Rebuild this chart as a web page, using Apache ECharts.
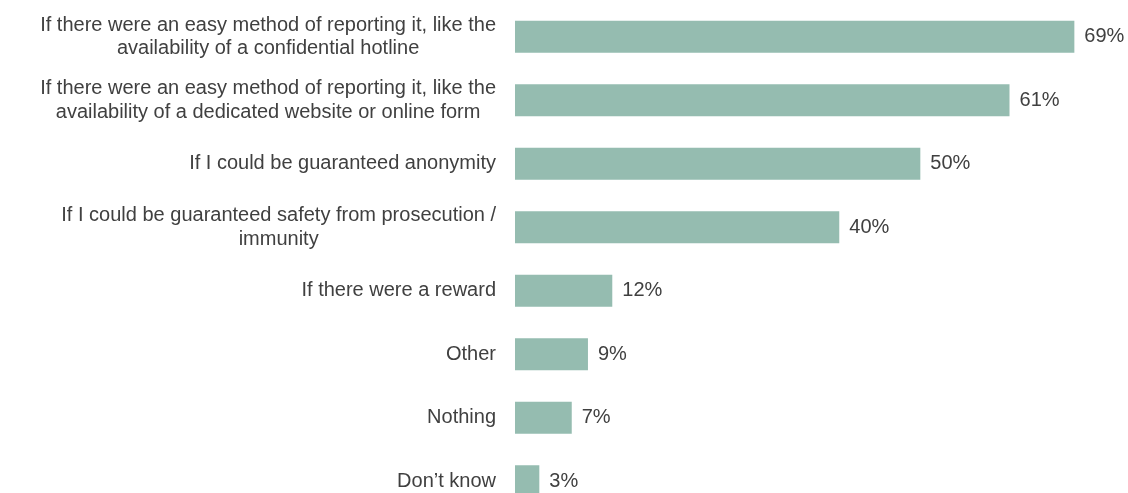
<!DOCTYPE html>
<html>
<head>
<meta charset="utf-8">
<script src="https://cdn.jsdelivr.net/npm/echarts@6/dist/echarts.min.js"></script>
<style>
  html, body { margin: 0; padding: 0; background: #ffffff; overflow: hidden; }
  /* the canvas is a little taller than the window, so the last bar is cut off */
  #chart { width: 1128px; height: 513px; }
</style>
</head>
<body>
<div id="chart"></div>
<script>
// Survey answers, top to bottom
const categories = [
  'If there were an easy method of reporting it, like the\navailability of a confidential hotline',
  'If there were an easy method of reporting it, like the\navailability of a dedicated website or online form',
  'If I could be guaranteed anonymity',
  'If I could be guaranteed safety from prosecution /\nimmunity',
  'If there were a reward',
  'Other',
  'Nothing',
  'Don’t know'
];
// Share of respondents (%)
const shares = [69, 61, 50, 40, 12, 9, 7, 3];

const TEXT = '#404040';
const BAR = '#95BCB0';
const FONT = '"Liberation Sans", Arial, sans-serif';

const chart = echarts.init(document.getElementById('chart'), null, { renderer: 'canvas' });

chart.setOption({
  backgroundColor: '#ffffff',
  animation: false,
  grid: { left: 515, right: 5, top: 5, bottom: 0 },
  xAxis: {
    type: 'value',
    min: 0,
    max: 75,
    show: false
  },
  yAxis: {
    type: 'category',
    inverse: true,
    data: categories,
    axisLine: { show: false },
    axisTick: { show: false },
    splitLine: { show: false },
    axisLabel: {
      margin: 19,
      color: TEXT,
      fontFamily: FONT,
      fontSize: 20,
      lineHeight: 23.5,
      // each line is centred inside the right-aligned label block
      formatter: function (v) {
        return v.split('\n').map(function (l) { return '{c|' + l + '}'; }).join('\n');
      },
      rich: {
        c: { align: 'center', color: TEXT, fontFamily: FONT, fontSize: 20, lineHeight: 23.5 }
      }
    }
  },
  series: [{
    type: 'bar',
    data: shares,
    barWidth: 32,
    itemStyle: { color: BAR },
    label: {
      show: true,
      position: 'right',
      distance: 10,
      color: TEXT,
      fontFamily: FONT,
      fontSize: 20,
      formatter: '{c}%'
    }
  }]
});
</script>
</body>
</html>
